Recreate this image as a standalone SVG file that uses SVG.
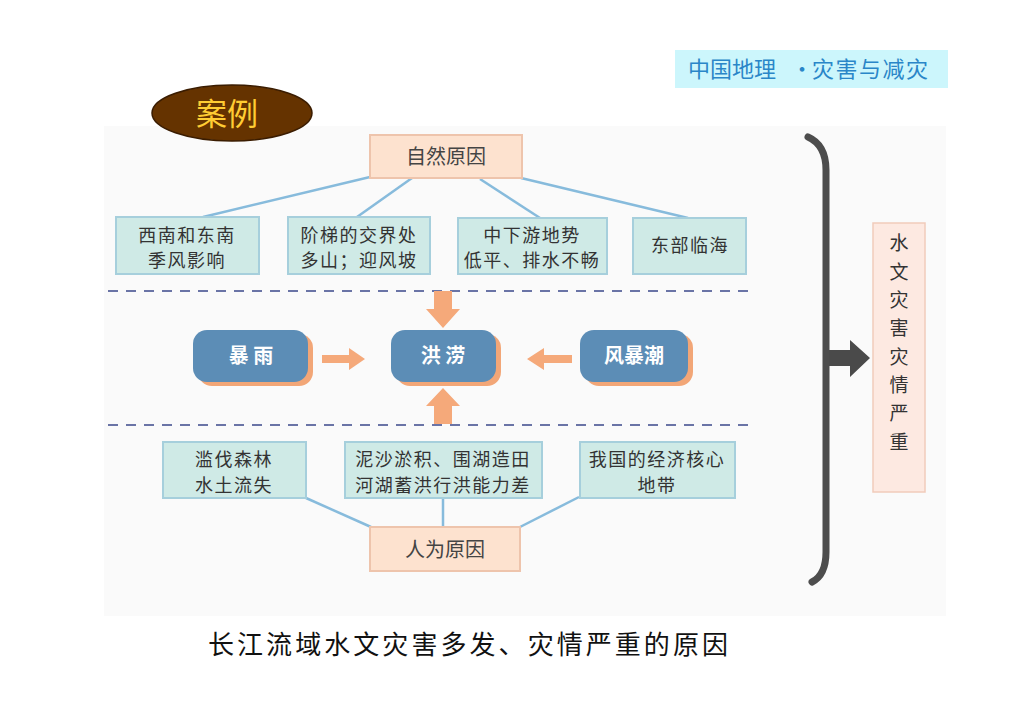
<svg xmlns="http://www.w3.org/2000/svg" width="1023" height="723" viewBox="0 0 1023 723">
<defs>
<style>
.t{font-family:"Noto Sans CJK SC","Noto Sans",sans-serif;}
.green rect{fill:#cfeae6;stroke:#a6cfdc;stroke-width:2;}
.green text{font-size:18px;fill:#333;text-anchor:middle;letter-spacing:1.5px;}
.peach rect{fill:#fde2cf;stroke:#eec4ac;stroke-width:2;}
.peach text{font-size:20px;fill:#444;text-anchor:middle;}
.blue .sh{fill:#f2a677;}
.blue .bd{fill:#5c8db6;}
.blue text{font-size:20px;fill:#fff;font-weight:bold;text-anchor:middle;}
.link{stroke:#87bbdc;stroke-width:2.5;fill:none;}
.dash{stroke:#6a74a6;stroke-width:2;stroke-dasharray:10 8;}
.oa{fill:#f5a97a;}
.hd{font-size:22px;fill:#2a86c8;}
</style>
</defs>
<rect x="0" y="0" width="1023" height="723" fill="#ffffff"/>
<rect x="104" y="126" width="842" height="490" fill="#fafafa"/>

<g id="header" class="t">
<rect x="675" y="50" width="273" height="38" fill="#ccf6fc"/>
<text class="hd" x="688" y="77" textLength="88" lengthAdjust="spacing">中国地理</text>
<text class="hd" x="802" y="77" text-anchor="middle">·</text>
<text class="hd" x="812" y="77" textLength="116" lengthAdjust="spacing">灾害与减灾</text>
</g>

<g id="case">
<ellipse cx="232" cy="113" rx="80" ry="28" fill="#653300" stroke="#3a1c00" stroke-width="1.5"/>
<text class="t" x="227" y="125" font-size="31" fill="#ffcc33" text-anchor="middle">案例</text>
</g>

<g id="connectors">
<line class="link" x1="370" y1="177" x2="203" y2="217"/>
<line class="link" x1="412" y1="178" x2="357" y2="217"/>
<line class="link" x1="480" y1="179" x2="540" y2="218"/>
<line class="link" x1="521" y1="178" x2="688" y2="218"/>
<line class="link" x1="306" y1="498" x2="371" y2="527"/>
<line class="link" x1="443" y1="498" x2="443" y2="527"/>
<line class="link" x1="579" y1="497" x2="520" y2="527"/>
<line class="dash" x1="108" y1="291" x2="752" y2="291"/>
<line class="dash" x1="108" y1="425" x2="752" y2="425"/>
<polygon class="oa" points="322,355 349,355 349,348 365,359 349,370 349,363 322,363"/>
<polygon class="oa" points="572,355 544,355 544,348 527,359 544,370 544,363 572,363"/>
<polygon class="oa" points="434,291 452,291 452,309 460,309 443,328 426,309 434,309"/>
<polygon class="oa" points="434,424 452,424 452,406 460,406 443,388 426,406 434,406"/>
<path d="M826,350 L850,350 L850,340 L870,358 L850,377 L850,366 L826,366 Z" fill="#4a4a4a"/>
</g>

<g id="natural" class="peach t">
<rect x="370" y="135" width="152" height="43"/>
<text x="446" y="164">自然原因</text>
</g>

<g id="n1" class="green t">
<rect x="116" y="217" width="143" height="57"/>
<text x="187" y="242">西南和东南</text>
<text x="187" y="267">季风影响</text>
</g>
<g id="n2" class="green t">
<rect x="288" y="217" width="142" height="57"/>
<text x="359" y="242">阶梯的交界处</text>
<text x="359" y="267">多山；迎风坡</text>
</g>
<g id="n3" class="green t">
<rect x="458" y="218" width="149" height="56"/>
<text x="532" y="242">中下游地势</text>
<text x="532" y="267">低平、排水不畅</text>
</g>
<g id="n4" class="green t">
<rect x="633" y="218" width="113" height="56"/>
<text x="690" y="252">东部临海</text>
</g>

<g id="rain" class="blue t">
<rect class="sh" x="198" y="334" width="115" height="52" rx="14"/>
<rect class="bd" x="193" y="330" width="115" height="52" rx="14"/>
<text x="251" y="363">暴 雨</text>
</g>
<g id="flood" class="blue t">
<rect class="sh" x="396" y="334" width="105" height="52" rx="14"/>
<rect class="bd" x="391" y="330" width="105" height="52" rx="14"/>
<text x="443" y="363">洪 涝</text>
</g>
<g id="surge" class="blue t">
<rect class="sh" x="585" y="334" width="108" height="52" rx="14"/>
<rect class="bd" x="580" y="330" width="108" height="52" rx="14"/>
<text x="634" y="363">风暴潮</text>
</g>

<g id="h1" class="green t">
<rect x="163" y="442" width="143" height="56"/>
<text x="234" y="466">滥伐森林</text>
<text x="234" y="492">水土流失</text>
</g>
<g id="h2" class="green t">
<rect x="345" y="442" width="197" height="56"/>
<text x="443" y="466">泥沙淤积、围湖造田</text>
<text x="443" y="492">河湖蓄洪行洪能力差</text>
</g>
<g id="h3" class="green t">
<rect x="580" y="442" width="155" height="56"/>
<text x="657" y="466">我国的经济核心</text>
<text x="657" y="492">地带</text>
</g>

<g id="human" class="peach t">
<rect x="370" y="527" width="150" height="44"/>
<text x="445" y="557">人为原因</text>
</g>

<g id="bracket">
<path d="M808,137 Q826,145 826,170 L826,552 Q826,575 812,582" fill="none" stroke="#4d4d4d" stroke-width="7" stroke-linecap="round"/>
</g>

<g id="result" class="t">
<rect x="873" y="223" width="52" height="269" fill="#fde9e1" stroke="#f1cbbb" stroke-width="1.5"/>
<g font-size="19" fill="#333" text-anchor="middle">
<text x="899" y="250">水</text>
<text x="899" y="279">文</text>
<text x="899" y="307">灾</text>
<text x="899" y="335">害</text>
<text x="899" y="364">灾</text>
<text x="899" y="392">情</text>
<text x="899" y="420">严</text>
<text x="899" y="449">重</text>
</g>
</g>

<g id="caption">
<text class="t" x="208" y="654" font-size="26" fill="#111" textLength="520" lengthAdjust="spacing">长江流域水文灾害多发、灾情严重的原因</text>
</g>
</svg>
